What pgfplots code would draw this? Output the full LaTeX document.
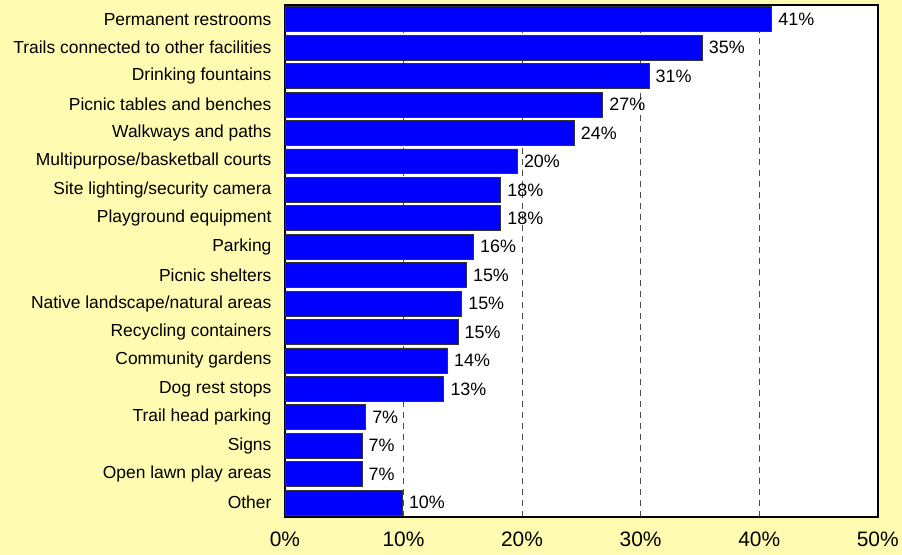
\documentclass[border=0pt]{standalone}
\usepackage{pgfplots}
\pgfplotsset{compat=1.18}
\usepackage{fontspec}
\setmainfont{Liberation Sans}
\definecolor{bgyellow}{RGB}{255,251,176}
\definecolor{barblue}{RGB}{0,0,255}
\newcommand{\lblfont}{\fontsize{17.5}{20}\selectfont}
\newcommand{\valfont}{\fontsize{18}{21}\selectfont}
\newcommand{\tickfont}{\fontsize{21}{24}\selectfont}

\begin{document}
\begin{tikzpicture}[font=\lblfont]
% page background
\fill[bgyellow] (-285bp,-38bp) rectangle (617bp,517bp);
\begin{axis}[
    at={(0,0)}, anchor=south west,
    scale only axis, width=593bp, height=512bp,
    xbar, bar width=25bp,
    xmin=0, xmax=50, ymin=-0.5, ymax=17.5, y dir=reverse,
    axis background/.style={fill=white},
    axis line style={line width=1.6bp, black},
    major tick length=0pt,
    xtick={0,10,20,30,40,50},
    xticklabels={0\%,10\%,20\%,30\%,40\%,50\%},
    xticklabel style={font=\tickfont, yshift=-12bp},
    ytick={0,...,17},
    yticklabels={Permanent restrooms,Trails connected to other facilities,Drinking fountains,Picnic tables and benches,Walkways and paths,Multipurpose/basketball courts,Site lighting/security camera,Playground equipment,Parking,Picnic shelters,Native landscape/natural areas,Recycling containers,Community gardens,Dog rest stops,Trail head parking,Signs,Open lawn play areas,Other},
    yticklabel style={font=\lblfont, xshift=-10bp},
    xmajorgrids,
    major grid style={black!70, line width=0.8bp, dash pattern=on 6bp off 5bp},
    nodes near coords,
    point meta=explicit symbolic,
    nodes near coords style={font=\valfont, anchor=west, xshift=3bp},
]
\addplot[fill=barblue, draw=black!80, line width=0.8bp] coordinates {
    (41.06,0) [41\%]
    (35.2,1)  [35\%]
    (30.7,2)  [31\%]
    (26.8,3)  [27\%]
    (24.4,4)  [24\%]
    (19.6,5)  [20\%]
    (18.2,6)  [18\%]
    (18.2,7)  [18\%]
    (15.9,8)  [16\%]
    (15.3,9)  [15\%]
    (14.9,10) [15\%]
    (14.6,11) [15\%]
    (13.7,12) [14\%]
    (13.4,13) [13\%]
    (6.8,14)  [7\%]
    (6.5,15)  [7\%]
    (6.5,16)  [7\%]
    (9.9,17)  [10\%]
};
\end{axis}
\end{tikzpicture}
\end{document}
